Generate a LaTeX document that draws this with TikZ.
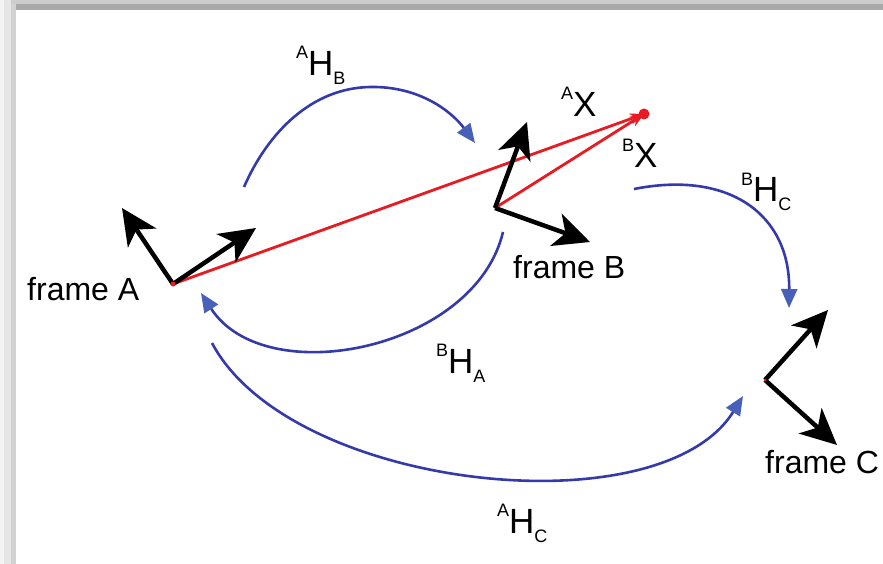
\documentclass[tikz,border=0pt]{standalone}
\usepackage{fontspec}
\setmainfont{Liberation Sans}
\usetikzlibrary{arrows.meta}
\definecolor{arcblue}{RGB}{52,58,170}
\definecolor{tipblue}{RGB}{72,96,184}
\definecolor{vred}{RGB}{232,26,34}
\definecolor{bandA}{RGB}{244,244,244}
\definecolor{bandB}{RGB}{230,230,230}
\definecolor{bandC}{RGB}{210,210,210}
\definecolor{bandD}{RGB}{205,205,205}
\definecolor{bandE}{RGB}{169,169,169}
\newcommand{\hlab}[3]{\raisebox{17pt}{\fontsize{18}{18}\selectfont #1}{\fontsize{35}{35}\selectfont #2}\raisebox{-9pt}{\fontsize{18}{18}\selectfont #3}}
\tikzset{
  axis/.style={line width=4.5pt, black, -{Stealth[length=36pt,width=34pt,inset=10pt]}},
  transf/.style={line width=2.6pt, arcblue, -{Triangle[length=19pt,width=16pt,color=tipblue]}},
  vec/.style={line width=2.8pt, vred, -{Stealth[length=14pt,width=11pt]}},
  framelbl/.style={anchor=base west, inner sep=0pt, font=\fontsize{32}{32}\selectfont},
  hlbl/.style={anchor=base west, inner sep=0pt}
}
\begin{document}
\begin{tikzpicture}[x=1pt,y=-1pt]
\useasboundingbox (0,0) rectangle (883,564);
% picture frame shading
\fill[bandA] (0,0) rectangle (4,564);
\fill[bandB] (4,0) rectangle (11,564);
\fill[bandC] (11,4) rectangle (16,564);
\fill[bandD] (11,0) rectangle (883,4);
\fill[bandE] (16,4) rectangle (883,10);

% frame origins and axis tips
\coordinate (A) at (173,284);
\coordinate (Ay) at (122,208);
\coordinate (Ax) at (256,228);
\coordinate (B) at (495,208);
\coordinate (By) at (527,122);
\coordinate (Bx) at (590,242);
\coordinate (C) at (765,380);
\coordinate (Cy) at (828,310);
\coordinate (Cx) at (837,445);
\coordinate (P) at (644,114);

% red vectors
\draw[vec] (A) -- (P);
\draw[vec] (B) -- (P);
\fill[vred] (P) circle (5.5);

% axes
\draw[axis] (A) -- (Ay);
\draw[axis] (A) -- (Ax);
\draw[axis] (B) -- (By);
\draw[axis] (B) -- (Bx);
\draw[axis] (C) -- (Cy);
\draw[axis] (C) -- (Cx);
\fill[vred] (A) circle (2.5);
\fill[vred] (C) circle (1.5);

% transformation arcs
\coordinate (s1) at (244,187); \coordinate (m1) at (370,87); \coordinate (e1) at (475,143);
\coordinate (s2) at (503,232); \coordinate (e2) at (201,293);
\coordinate (s3) at (212,343); \coordinate (e3) at (743,396);
\coordinate (s4) at (634,189); \coordinate (e4) at (789,308);
\draw[transf] (s1) .. controls (268,132) and (312,88) .. (m1) .. controls (420,86) and (452,112) .. (e1);
\draw[transf] (s2) .. controls (475,350) and (265,392) .. (e2);
\draw[transf] (s3) .. controls (290,490) and (660,530) .. (e3);
\draw[transf] (s4) .. controls (730,170) and (790,215) .. (e4);

% labels
\node[framelbl] (lA) at (27,300) {frame A};
\node[framelbl] (lB) at (513,278) {frame B};
\node[framelbl] (lC) at (765,473) {frame C};
\node[hlbl] (hAB) at (296,76) {\hlab{A}{H}{B}};
\node[hlbl] (hBA) at (436,373) {\hlab{B}{H}{A}};
\node[hlbl] (hBC) at (741,202) {\hlab{B}{H}{C}};
\node[hlbl] (hAC) at (497,533) {\hlab{A}{H}{C}};
\node[hlbl] (xA) at (561,117) {\hlab{A}{X}{}};
\node[hlbl] (xB) at (622,168) {\hlab{B}{X}{}};
\end{tikzpicture}
\end{document}
